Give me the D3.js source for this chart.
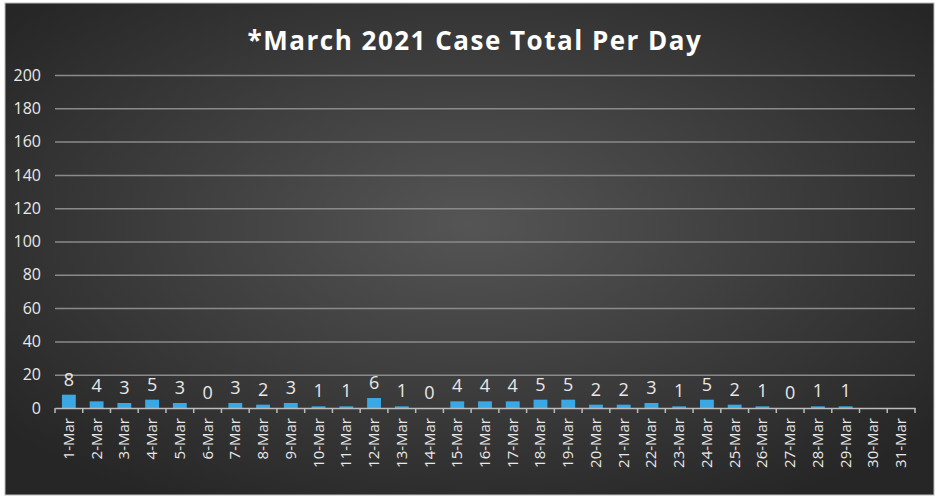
<!DOCTYPE html>
<html><head><meta charset="utf-8">
<script src="https://cdn.jsdelivr.net/npm/d3@7"></script>
<style>body{margin:0;background:#fff}</style></head>
<body><svg id="c" width="939" height="500"></svg>
<script>
const days = d3.range(1,32).map(d=>d+"-Mar");
const cases = [8,4,3,5,3,0,3,2,3,1,1,6,1,0,4,4,4,5,5,2,2,3,1,5,2,1,0,1,1,null,null];
const yTicks = [0,20,40,60,80,100,120,140,160,180,200];
const title = "*March 2021 Case Total Per Day";

const svg = d3.select("#c");
const defs = svg.append("defs");
const g = defs.append("radialGradient").attr("id","bg").attr("cx","50%").attr("cy","45%").attr("r","65%");
g.append("stop").attr("offset","0%").attr("stop-color","#555555");
g.append("stop").attr("offset","100%").attr("stop-color","#262626");
svg.append("rect").attr("x",5).attr("y",3).attr("width",929).attr("height",492).attr("fill","url(#bg)").attr("stroke","#bbb");

const m = {l:55, r:915, t:75, b:408};
const x = d3.scaleBand().domain(days).range([m.l,m.r]);
const y = d3.scaleLinear().domain([0,200]).range([m.b,m.t]);

svg.append("text").attr("x",475).attr("y",50).attr("text-anchor","middle")
 .attr("fill","#fff").attr("font-family","Open Sans, sans-serif").attr("font-weight","bold")
 .attr("font-size",26).attr("letter-spacing",1.5).text(title);

const ya = svg.append("g").attr("transform",`translate(${m.l},0)`)
 .call(d3.axisLeft(y).tickValues(yTicks).tickSize(-(m.r-m.l)).tickPadding(14));
ya.select(".domain").remove();
ya.selectAll(".tick line").attr("stroke","#8a8a8a").attr("stroke-width",1.5);
ya.selectAll(".tick text").attr("fill","#e8e8e8").attr("font-size",16).attr("font-family","Open Sans, sans-serif");
ya.selectAll(".tick").filter(d=>d===0).select("line").remove();

const pts = days.map((d,i)=>({d,v:cases[i]})).filter(o=>o.v!=null);
svg.selectAll("rect.bar").data(pts).enter()
 .append("rect").attr("class","bar")
 .attr("x",o=>x(o.d)+x.bandwidth()*0.25).attr("width",x.bandwidth()*0.5)
 .attr("y",o=>y(o.v)).attr("height",o=>m.b-y(o.v)).attr("fill","#3aa8e4");

svg.selectAll("text.lbl").data(pts).enter()
 .append("text").attr("class","lbl").attr("x",o=>x(o.d)+x.bandwidth()/2).attr("y",o=>y(o.v)-9)
 .attr("text-anchor","middle").attr("fill","#e8e8e8").attr("font-size",18)
 .attr("font-family","Open Sans, sans-serif").text(o=>o.v);

const xa = svg.append("g").attr("transform",`translate(0,${m.b})`).call(d3.axisBottom(x).tickSize(0));
xa.select(".domain").attr("stroke","#bbb").attr("stroke-width",1.5);
xa.selectAll(".tick text").remove();
svg.append("g").selectAll("text").data(days).enter().append("text")
 .attr("transform",d=>`translate(${x(d)+x.bandwidth()/2+5},${m.b+10}) rotate(-90)`)
 .attr("text-anchor","end").attr("fill","#e8e8e8").attr("font-size",15)
 .attr("font-family","Open Sans, sans-serif").text(d=>d);
svg.append("g").selectAll("line").data(d3.range(32)).enter().append("line")
 .attr("x1",i=>m.l+i*x.step()).attr("x2",i=>m.l+i*x.step()).attr("y1",m.b).attr("y2",m.b+5)
 .attr("stroke","#bbb").attr("stroke-width",1.5);
</script></body></html>
